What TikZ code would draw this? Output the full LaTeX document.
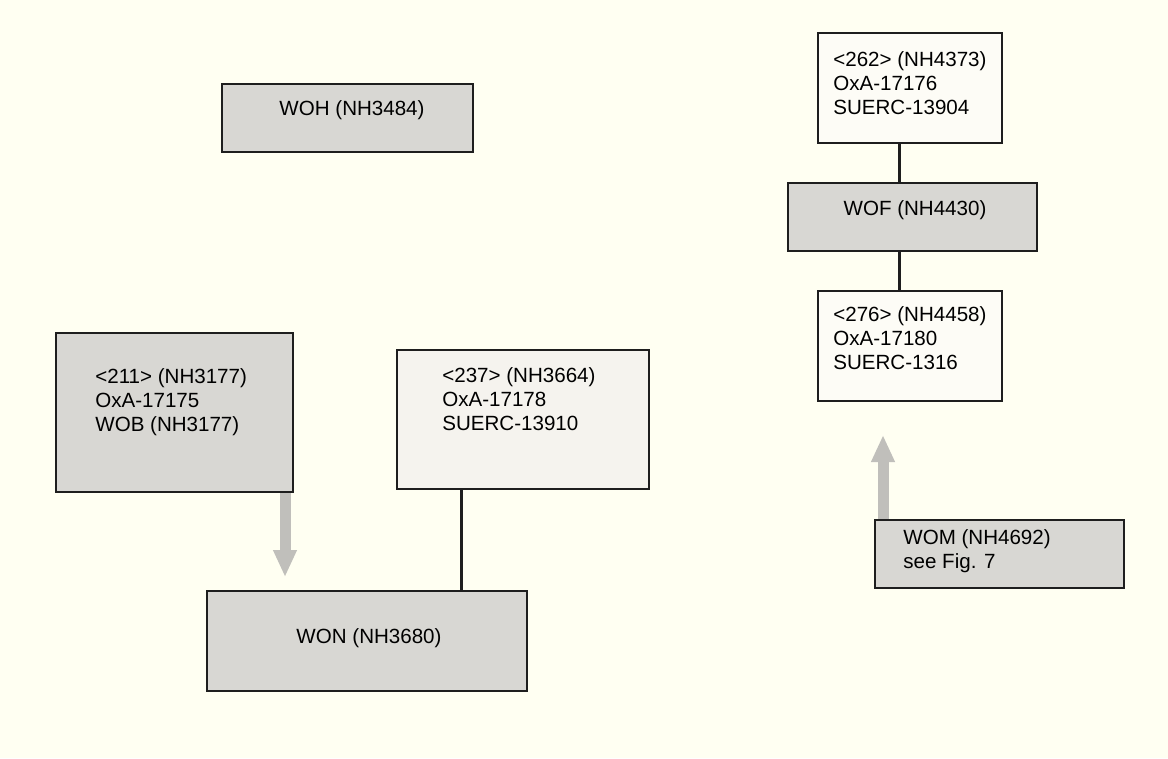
\documentclass[tikz,border=0pt]{standalone}
\usepackage{fontspec}
\setmainfont{Liberation Sans}
\usepackage{xcolor}
\usepackage{tikz}
\usetikzlibrary{arrows.meta,positioning,calc}
\definecolor{pagecream}{RGB}{255, 255, 242}
\definecolor{graybox}{RGB}{216, 215, 211}
\definecolor{palebox}{RGB}{245, 243, 238}
\definecolor{whitebox}{RGB}{253, 252, 246}
\definecolor{edgedark}{RGB}{30, 30, 30}
\definecolor{arrowgray}{RGB}{192, 191, 187}
\newcommand{\boxfont}{\fontsize{11.7}{13.8}\selectfont}

\begin{document}
\begin{tikzpicture}[x=0.2mm, y=-0.2mm,
    every node/.style={font=\boxfont},
    unitbox/.style={draw=edgedark, line width=0.4mm, inner sep=0pt},
    grayunit/.style={unitbox, fill=graybox},
    paleunit/.style={unitbox, fill=palebox},
    whiteunit/.style={unitbox, fill=whitebox},
    txt/.style={inner sep=0pt, align=left, anchor=west},
    link/.style={draw=edgedark, line width=0.6mm},
    seqarrow/.style={draw=arrowgray, line width=2.2mm, -{Triangle[width=4.4mm, length=5.4mm]}}]
    % Page background
    \fill[pagecream] (0,0) rectangle (1168,758);
    \useasboundingbox (0,0) rectangle (1168,758);

    % Upper left context
    \node[grayunit, minimum width=50.2mm, minimum height=13.6mm] (woh) at (347.5,118) {};
    \node[inner sep=0pt] (wohtxt) at (352,110) {WOH (NH3484)};

    % Left group
    \node[grayunit, minimum width=47.4mm, minimum height=31.8mm] (b211) at (174.5,412.5) {};
    \node[txt] (b211txt) at (95,402) {<211> (NH3177)\\OxA-17175\\WOB (NH3177)};

    \node[paleunit, minimum width=50.4mm, minimum height=27.8mm] (b237) at (523,419.5) {};
    \node[txt] (b237txt) at (442,399) {<237> (NH3664)\\OxA-17178\\SUERC-13910};

    \node[grayunit, minimum width=64mm, minimum height=20mm] (won) at (367,641) {};
    \node[inner sep=0pt] (wontxt) at (369,638) {WON (NH3680)};

    \coordinate (tipwon) at (285,577);
    \draw[seqarrow] (b211.south -| tipwon) -- (tipwon);
    \draw[link] (b237.south -| 461,0) -- (won.north -| 461,0);

    % Right group
    \node[whiteunit, minimum width=36.8mm, minimum height=22mm] (b262) at (910,88) {};
    \node[txt] (b262txt) at (833,83) {<262> (NH4373)\\OxA-17176\\SUERC-13904};

    \node[grayunit, minimum width=49.8mm, minimum height=13.6mm] (wof) at (912.5,217) {};
    \node[inner sep=0pt] (woftxt) at (915,210) {WOF (NH4430)};

    \node[whiteunit, minimum width=36.8mm, minimum height=22mm] (b276) at (910,346) {};
    \node[txt] (b276txt) at (833,338) {<276> (NH4458)\\OxA-17180\\SUERC-1316};

    \node[grayunit, minimum width=49.8mm, minimum height=13.6mm] (wom) at (999.5,554) {};
    \node[txt] (womtxt) at (903,551.5) {WOM (NH4692)\\see Fig. 7};

    \draw[link] (b262.south -| 899,0) -- (wof.north -| 899,0);
    \draw[link] (wof.south -| 899,0) -- (b276.north -| 899,0);
    \coordinate (tipb276) at (883,435);
    \draw[seqarrow] (wom.north -| tipb276) -- (tipb276);
\end{tikzpicture}
\end{document}
